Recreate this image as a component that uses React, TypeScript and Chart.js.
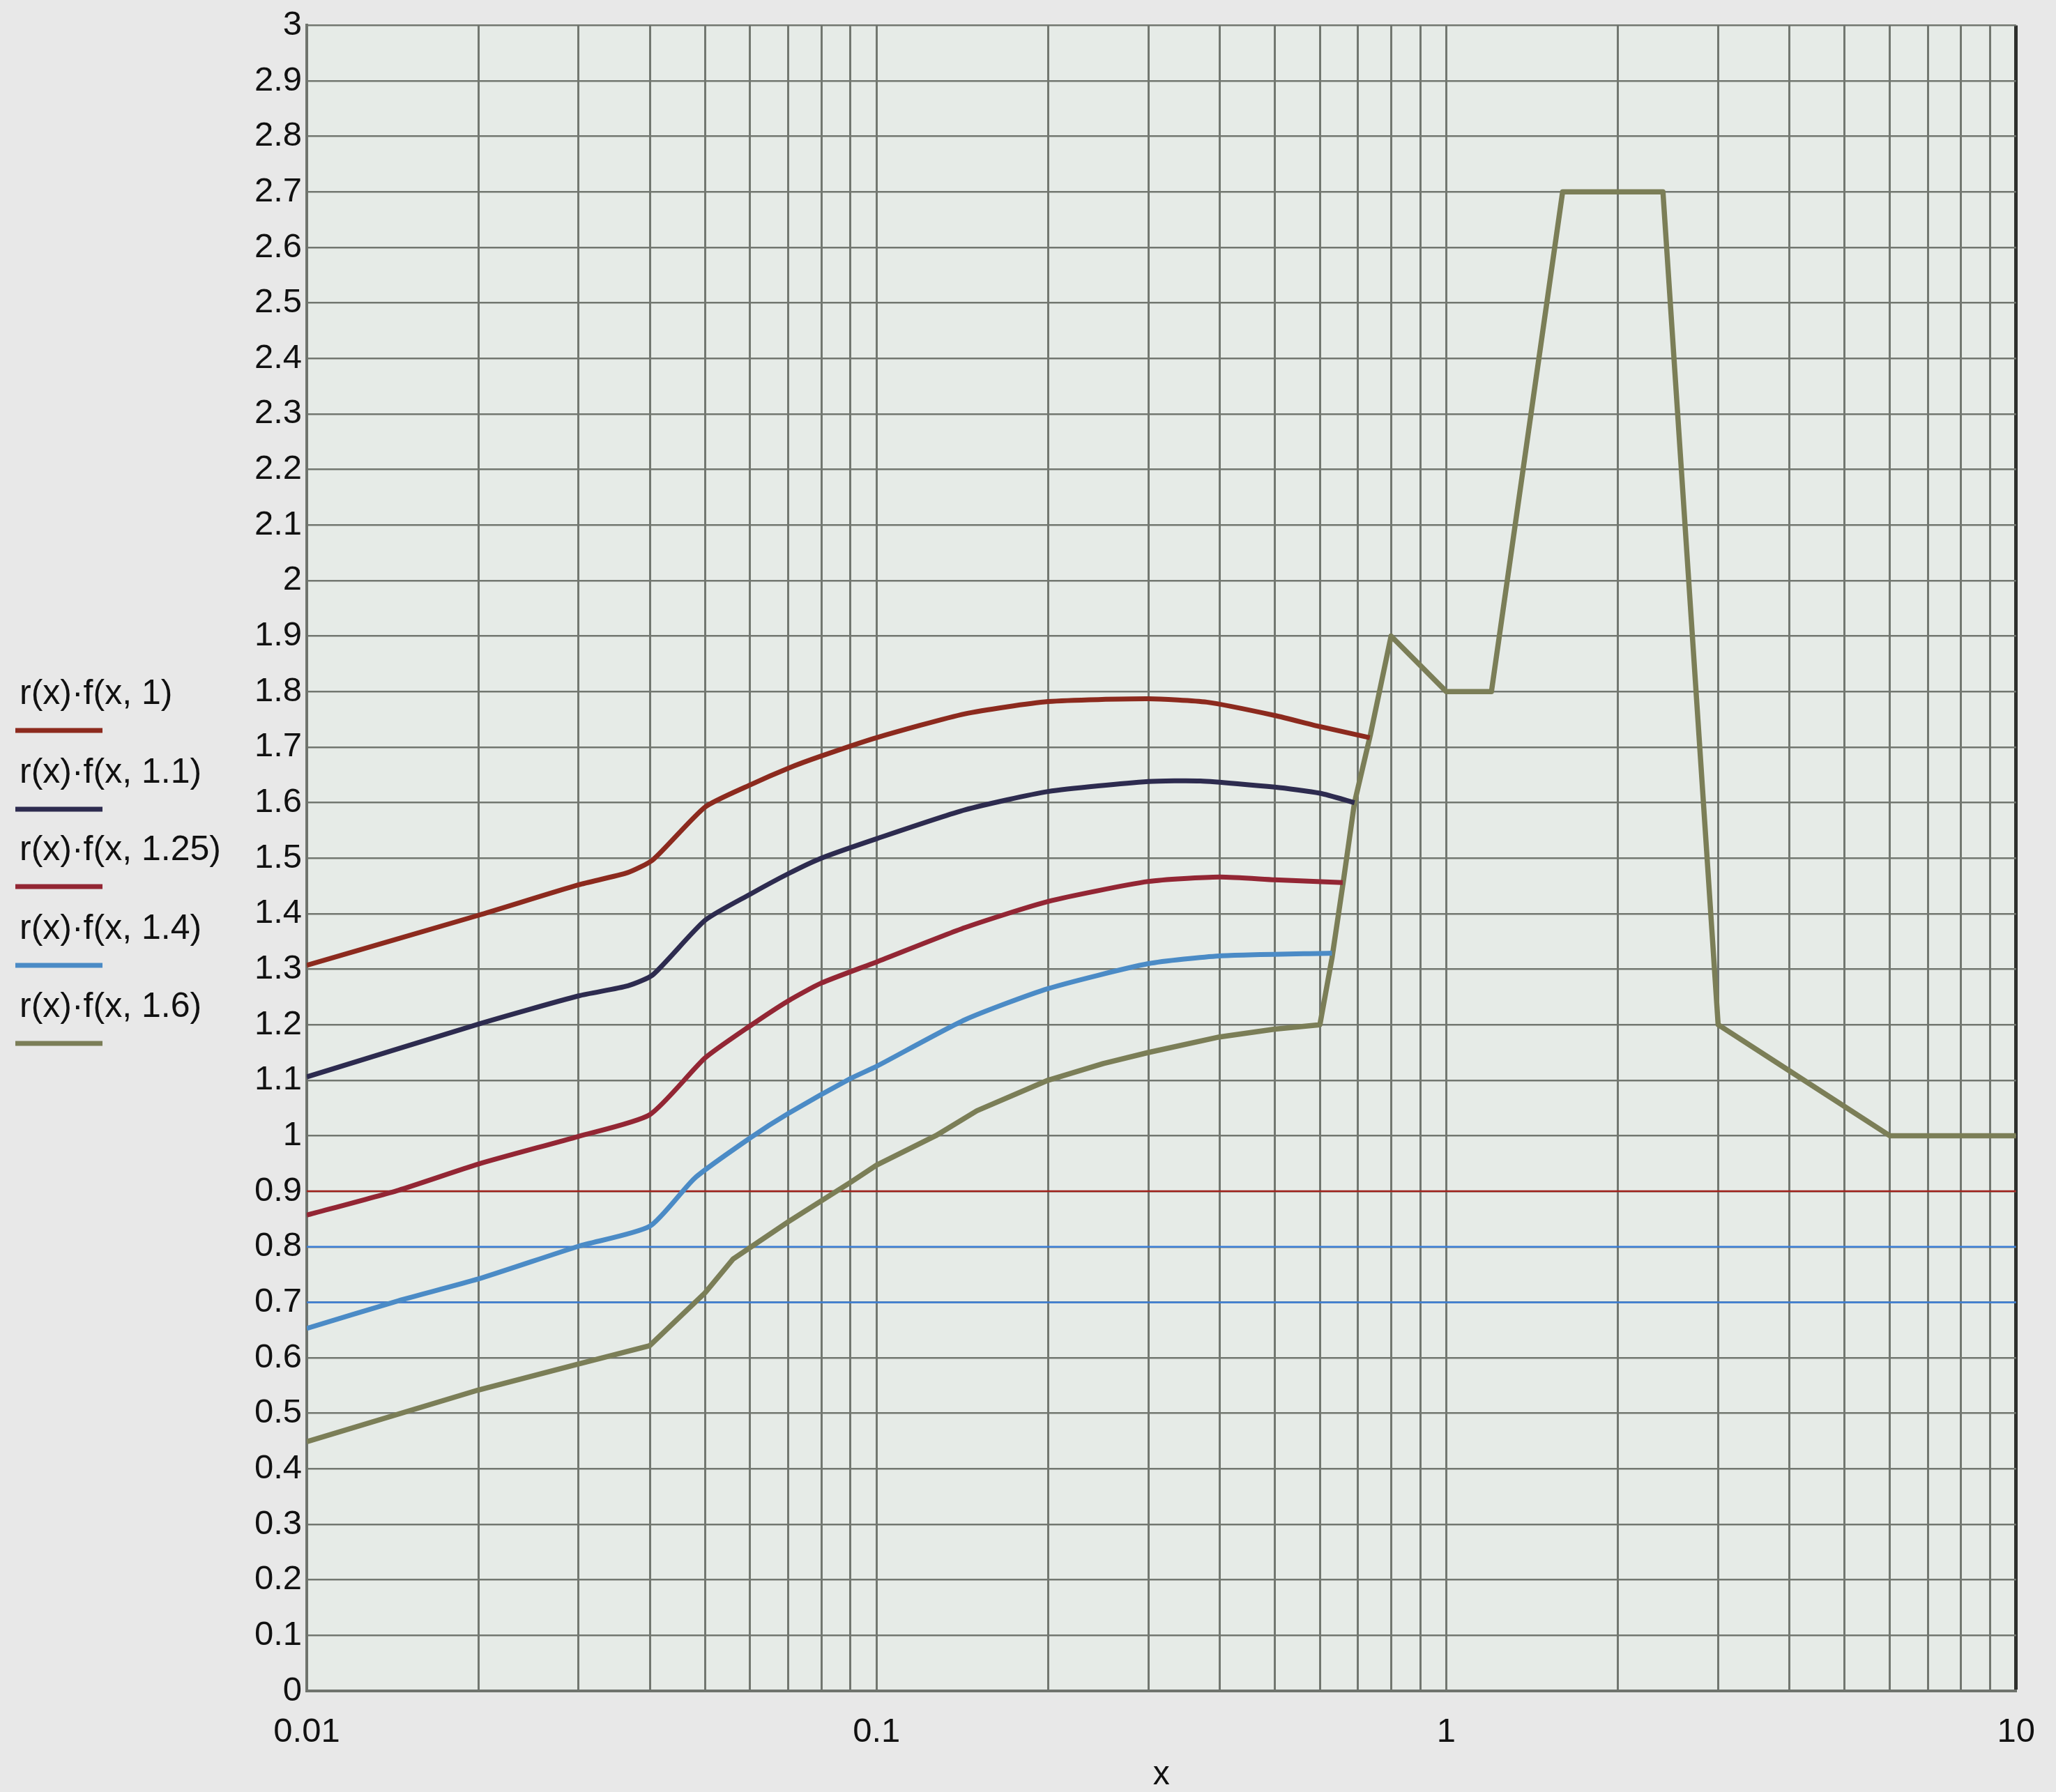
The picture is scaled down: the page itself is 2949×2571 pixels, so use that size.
import React, { useEffect, useRef } from 'react';
import { Chart, registerables } from 'chart.js';

Chart.register(...registerables);

// ---- tick configuration ----
const X_TICKS = [
  0.01, 0.02, 0.03, 0.04, 0.05, 0.06, 0.07, 0.08, 0.09,
  0.1, 0.2, 0.3, 0.4, 0.5, 0.6, 0.7, 0.8, 0.9,
  1, 2, 3, 4, 5, 6, 7, 8, 9, 10,
];
const X_LABELED = [0.01, 0.1, 1, 10];
const X_LABEL_TEXT = ['0.01', '0.1', '1', '10'];

// ---- series ----
const seriesLabels = [
  'r(x)·f(x, 1)',
  'r(x)·f(x, 1.1)',
  'r(x)·f(x, 1.25)',
  'r(x)·f(x, 1.4)',
  'r(x)·f(x, 1.6)',
];
const seriesColors = ['#8c2a1e', '#2d2b4f', '#932634', '#4b8bc6', '#7b7e57'];
const seriesTension = [0.2, 0.2, 0.2, 0.2, 0];

const xF100 = [0.01, 0.02, 0.03, 0.0366, 0.0405, 0.05, 0.06, 0.07, 0.08, 0.1, 0.143, 0.2, 0.3, 0.38, 0.5, 0.6, 0.734];
const yF100 = [1.307, 1.397, 1.452, 1.474, 1.497, 1.592, 1.632, 1.662, 1.684, 1.717, 1.76, 1.782, 1.787, 1.781, 1.757, 1.737, 1.717];

const xF110 = [0.01, 0.02, 0.03, 0.0366, 0.0405, 0.05, 0.06, 0.07, 0.08, 0.1, 0.143, 0.2, 0.3, 0.37, 0.5, 0.6, 0.69];
const yF110 = [1.106, 1.201, 1.252, 1.27, 1.29, 1.388, 1.435, 1.472, 1.5, 1.535, 1.587, 1.62, 1.638, 1.639, 1.628, 1.617, 1.6];

const xF125 = [0.01, 0.0145, 0.02, 0.03, 0.04, 0.05, 0.06, 0.07, 0.08, 0.1, 0.143, 0.2, 0.3, 0.4, 0.5, 0.658];
const yF125 = [0.857, 0.902, 0.949, 0.999, 1.038, 1.14, 1.198, 1.243, 1.275, 1.313, 1.375, 1.422, 1.458, 1.466, 1.461, 1.456];

const xF140 = [0.01, 0.0145, 0.02, 0.03, 0.04, 0.048, 0.06, 0.07, 0.09, 0.1, 0.143, 0.2, 0.3, 0.4, 0.63];
const yF140 = [0.653, 0.703, 0.742, 0.801, 0.837, 0.924, 0.996, 1.04, 1.103, 1.125, 1.209, 1.265, 1.31, 1.324, 1.329];

const xF160 = [0.01, 0.02, 0.03, 0.04, 0.05, 0.056, 0.07, 0.09, 0.1, 0.127, 0.15, 0.2, 0.25, 0.3, 0.4, 0.5, 0.6, 0.63, 0.66, 0.69, 0.735, 0.8, 1.0, 1.2, 1.6, 2.4, 3.0, 4.0, 6.0, 10];
const yF160 = [0.449, 0.542, 0.589, 0.622, 0.717, 0.778, 0.845, 0.916, 0.947, 1.0, 1.045, 1.1, 1.13, 1.15, 1.178, 1.192, 1.2, 1.32, 1.46, 1.6, 1.72, 1.9, 1.8, 1.8, 2.7, 2.7, 1.2, 1.117, 1.0, 1.0];

const seriesX = [xF100, xF110, xF125, xF140, xF160];
const seriesY = [yF100, yF110, yF125, yF140, yF160];

// thin horizontal reference traces
const refLevels = [0.9, 0.8, 0.7];
const refColors = ['#a0221c', '#3b7ed6', '#3b7ed6'];
const refX = [0.01, 10];

const W = 2949;
const H = 2571;
const FONT = '"Liberation Sans", Arial, sans-serif';

const bgPlugin = {
  id: 'bgPlugin',
  beforeDraw(chart: any) {
    const { ctx, chartArea: a } = chart;
    ctx.save();
    ctx.fillStyle = '#e8e8e8';
    ctx.fillRect(0, 0, chart.width, chart.height);
    ctx.fillStyle = '#e6ebe7';
    ctx.fillRect(a.left, a.top, a.right - a.left, a.bottom - a.top);
    ctx.restore();
  },
};

const legendPlugin = {
  id: 'sideLegend',
  afterDraw(chart: any) {
    const { ctx } = chart;
    const lineYs = [1048, 1161, 1272, 1385, 1497];
    ctx.save();
    ctx.font = `50px ${FONT}`;
    ctx.textBaseline = 'middle';
    ctx.textAlign = 'left';
    for (let i = 0; i < seriesLabels.length; i++) {
      const ly = lineYs[i];
      ctx.fillStyle = '#111';
      ctx.fillText(seriesLabels[i], 28, ly - 52);
      ctx.strokeStyle = seriesColors[i];
      ctx.lineWidth = 7;
      ctx.lineCap = 'butt';
      ctx.beginPath();
      ctx.moveTo(22, ly);
      ctx.lineTo(147, ly);
      ctx.stroke();
    }
    ctx.restore();
  },
};

export default function App() {
  const ref = useRef<HTMLCanvasElement | null>(null);

  useEffect(() => {
    if (!ref.current) return;
    const datasets: any[] = [];
    for (let i = 0; i < seriesLabels.length; i++) {
      datasets.push({
        label: seriesLabels[i],
        data: seriesX[i].map((x, j) => ({ x, y: seriesY[i][j] })),
        borderColor: seriesColors[i],
        backgroundColor: seriesColors[i],
        borderWidth: i === 4 ? 7.5 : 7,
        pointRadius: 0,
        tension: seriesTension[i],
        borderJoinStyle: 'round',
        fill: false,
      });
    }
    for (let i = 0; i < refLevels.length; i++) {
      datasets.push({
        label: 'ref' + i,
        data: refX.map((x) => ({ x, y: refLevels[i] })),
        borderColor: refColors[i],
        borderWidth: 2.5,
        pointRadius: 0,
        fill: false,
      });
    }

    const chart = new Chart(ref.current, {
      type: 'line',
      data: { datasets },
      plugins: [bgPlugin, legendPlugin],
      options: {
        animation: false,
        responsive: false,
        devicePixelRatio: 1,
        layout: { padding: { left: 0, top: 32, right: 49, bottom: 0 } },
        plugins: {
          legend: { display: false },
          tooltip: { enabled: false },
        },
        scales: {
          x: {
            type: 'logarithmic',
            min: 0.01,
            max: 10,
            afterBuildTicks: (scale: any) => {
              scale.ticks = X_TICKS.map((v) => ({ value: v }));
            },
            afterFit: (scale: any) => {
              scale.height = 145;
            },
            ticks: {
              autoSkip: false,
              maxRotation: 0,
              minRotation: 0,
              padding: 30,
              color: '#111',
              font: { family: FONT, size: 49 },
              callback: (v: any) => {
                const idx = X_LABELED.findIndex((t) => Math.abs(t - Number(v)) < 1e-9);
                return idx >= 0 ? X_LABEL_TEXT[idx] : '';
              },
            },
            grid: {
              drawTicks: false,
              color: (c: any) => (c.tick && Math.abs(c.tick.value - 10) < 1e-9 ? '#2e302d' : '#727770'),
              lineWidth: (c: any) => (c.tick && Math.abs(c.tick.value - 10) < 1e-9 ? 5 : 3),
            },
            border: { display: true, color: '#6f736d', width: 4 },
            title: {
              display: true,
              text: 'x',
              color: '#111',
              font: { family: FONT, size: 48, lineHeight: 1 },
              padding: { top: 0, bottom: 0 },
            },
          },
          y: {
            type: 'linear',
            min: 0,
            max: 3,
            afterFit: (scale: any) => {
              scale.width = 440;
            },
            ticks: {
              stepSize: 0.1,
              autoSkip: false,
              padding: 7,
              color: '#111',
              font: { family: FONT, size: 49 },
              callback: (v: any) => String(Math.round(Number(v) * 10) / 10),
            },
            grid: {
              drawTicks: false,
              color: '#727770',
              lineWidth: 2.5,
            },
            border: { display: true, color: '#6f736d', width: 4 },
          },
        },
      } as any,
    });
    return () => chart.destroy();
  }, []);

  return (
    <div style={{ position: 'fixed', left: 0, top: 0, width: W, height: H, background: '#e8e8e8' }}>
      <canvas ref={ref} width={W} height={H} style={{ width: W, height: H, display: 'block' }} />
    </div>
  );
}
